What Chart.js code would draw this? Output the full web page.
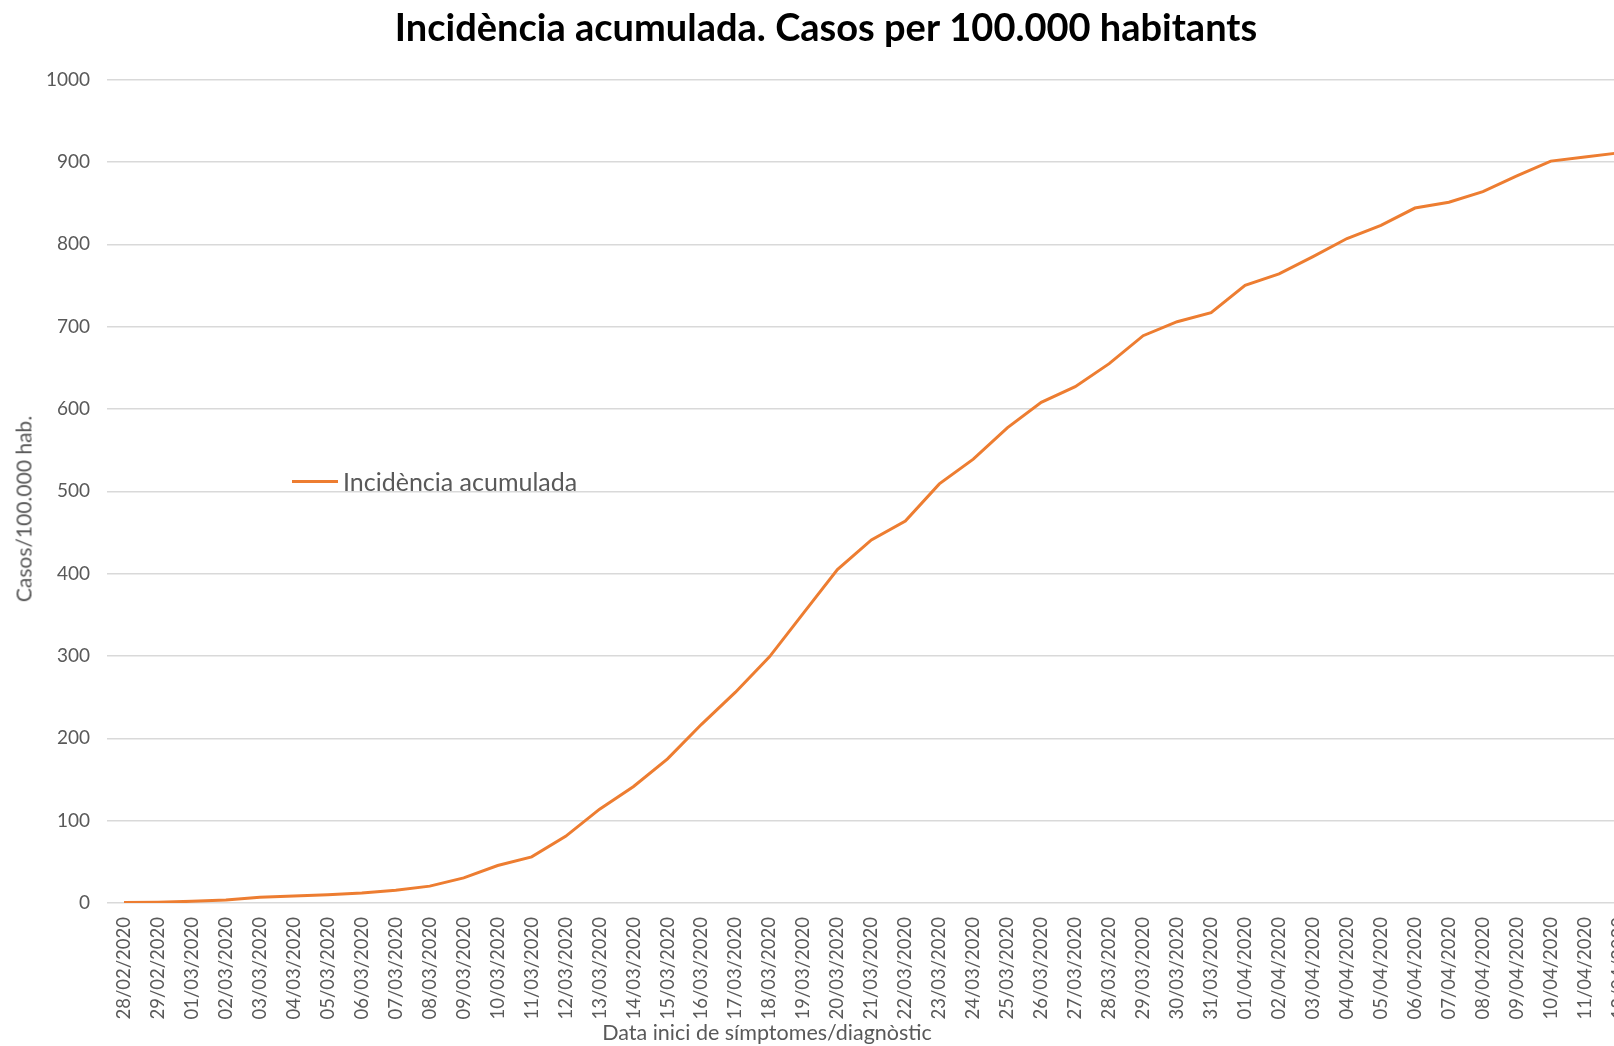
<!DOCTYPE html>
<html>
<head>
<meta charset="utf-8">
<script src="https://cdn.jsdelivr.net/npm/chart.js@4.4.1/dist/chart.umd.min.js"></script>
<style>
  html, body { margin: 0; padding: 0; background: #fff; overflow: hidden; }
  #wrap { position: relative; width: 1655px; height: 1046px; }
  #legend { position: absolute; left: 292px; top: 466px; font: 25px Lato, sans-serif; color: #595959; display: flex; align-items: center; white-space: nowrap; }
  #legend .swatch { width: 46px; height: 3px; background: #ED7D31; margin-right: 5px; }
  #yTitle { position: absolute; left: 23px; top: 509px; transform: translate(-50%, -50%) rotate(-90deg); font: 21px Lato, sans-serif; color: #595959; white-space: nowrap; }
  #xTitle { position: absolute; left: 767px; top: 1032px; transform: translate(-50%, -50%); font: 21.5px Lato, sans-serif; color: #595959; white-space: nowrap; }
</style>
</head>
<body>
<div id="wrap">
  <canvas id="incidenceChart"></canvas>
  <div id="legend"><span class="swatch"></span><span>Incidència acumulada</span></div>
  <div id="yTitle">Casos/100.000 hab.</div>
  <div id="xTitle">Data inici de símptomes/diagnòstic</div>
</div>
<script>
const dates = [
  "28/02/2020", "29/02/2020",
  "01/03/2020", "02/03/2020", "03/03/2020", "04/03/2020", "05/03/2020", "06/03/2020",
  "07/03/2020", "08/03/2020", "09/03/2020", "10/03/2020", "11/03/2020", "12/03/2020",
  "13/03/2020", "14/03/2020", "15/03/2020", "16/03/2020", "17/03/2020", "18/03/2020",
  "19/03/2020", "20/03/2020", "21/03/2020", "22/03/2020", "23/03/2020", "24/03/2020",
  "25/03/2020", "26/03/2020", "27/03/2020", "28/03/2020", "29/03/2020", "30/03/2020",
  "31/03/2020", "01/04/2020", "02/04/2020", "03/04/2020", "04/04/2020", "05/04/2020",
  "06/04/2020", "07/04/2020", "08/04/2020", "09/04/2020", "10/04/2020", "11/04/2020",
  "12/04/2020"
];

// casos acumulats per 100.000 habitants
const incidence = [
  0.5, 1, 2, 3.5, 7, 8.5, 10, 12, 15.5, 20.5, 30.5, 45.5, 56, 81, 114,
  141.5, 175, 217, 256, 299, 352, 405, 441, 464, 509, 539, 577, 608, 627,
  655, 689, 706, 717, 750, 764, 785, 807, 823, 844, 851, 864, 883, 901,
  906, 911
];

const yTicks = { min: 0, max: 1000, step: 100 };

const chartTitle = "Incidència acumulada. Casos per 100.000 habitants";
const seriesName = "Incidència acumulada";

function drawChart() {
  const ctx = document.getElementById("incidenceChart").getContext("2d");
  Chart.defaults.font.family = "Lato, sans-serif";

  new Chart(ctx, {
    type: "line",
    data: {
      labels: dates,
      datasets: [{
        label: seriesName,
        data: incidence,
        borderColor: "#ED7D31",
        borderWidth: 3,
        pointRadius: 0,
        tension: 0,
        fill: false
      }]
    },
    options: {
      responsive: true,
      maintainAspectRatio: false,
      animation: false,
      layout: { padding: { left: 0, right: 3, top: 0, bottom: 0 } },
      plugins: {
        legend: { display: false },
        tooltip: { enabled: false },
        title: {
          display: true,
          text: chartTitle,
          color: "#000",
          font: { size: 38, weight: "bold" },
          padding: { top: 6, bottom: 28 }
        }
      },
      scales: {
        x: {
          offset: true,
          grid: { display: false, drawTicks: false },
          border: { display: false },
          ticks: {
            autoSkip: false,
            maxRotation: 90,
            minRotation: 90,
            color: "#595959",
            font: { size: 18.5 },
            padding: 14
          },
          afterFit: s => { s.height = 143; }
        },
        y: {
          min: yTicks.min,
          max: yTicks.max,
          ticks: {
            stepSize: yTicks.step,
            color: "#595959",
            font: { size: 19 },
            padding: 17,
            callback: v => String(v)
          },
          grid: { color: "#D9D9D9", lineWidth: 1.5, drawTicks: false },
          border: { display: false },
          afterFit: s => { s.width = 107; }
        }
      }
    }
  });
}

if (document.fonts && document.fonts.load) {
  Promise.all([
    document.fonts.load("18px Lato"),
    document.fonts.load("bold 34px Lato")
  ]).then(drawChart, drawChart);
} else {
  drawChart();
}
</script>
</body>
</html>
